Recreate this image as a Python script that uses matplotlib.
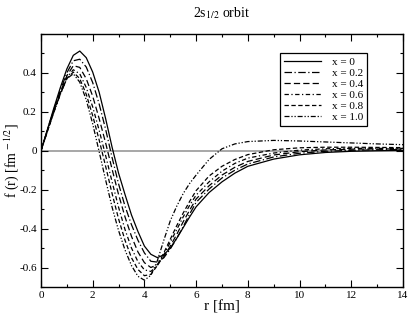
import matplotlib
matplotlib.use("Agg")
import matplotlib.pyplot as plt
from matplotlib.ticker import MultipleLocator, FixedLocator

plt.rcParams['font.family'] = ['Liberation Serif', 'DejaVu Serif']
plt.rcParams['mathtext.fontset'] = 'stix'
plt.rcParams['axes.unicode_minus'] = False

r = [0, 0.25, 0.5, 0.75, 1.0, 1.25, 1.5, 1.75, 2.0, 2.25, 2.5, 2.75, 3.0, 3.25,
     3.5, 3.75, 4.0, 4.25, 4.5, 4.75, 5.0, 5.25, 5.5, 5.75, 6.0,
     6.5, 7.0, 7.5, 8.0, 9.0, 10.0, 11.0, 12.0, 13.0, 14.0]

f_x00 = [0, 0.11, 0.22, 0.325, 0.42, 0.49, 0.512, 0.478, 0.404, 0.30, 0.165, 0.018,
         -0.115, -0.225, -0.33, -0.415, -0.49, -0.532, -0.549, -0.535, -0.50, -0.45,
         -0.395, -0.34, -0.288,
         -0.215, -0.16, -0.115, -0.08, -0.043, -0.021, -0.009, -0.003, 0.0, 0.002]
f_x02 = [0, 0.107, 0.212, 0.31, 0.40, 0.462, 0.47, 0.43, 0.35, 0.24, 0.11, -0.035,
         -0.17, -0.285, -0.38, -0.46, -0.525, -0.568, -0.572, -0.55, -0.505, -0.45,
         -0.39, -0.325, -0.265,
         -0.197, -0.14, -0.10, -0.068, -0.032, -0.013, -0.003, 0.002, 0.005, 0.006]
f_x04 = [0, 0.104, 0.207, 0.30, 0.385, 0.437, 0.428, 0.37, 0.28, 0.165, 0.04, -0.095,
         -0.225, -0.34, -0.44, -0.52, -0.575, -0.60, -0.585, -0.545, -0.49, -0.43,
         -0.365, -0.305, -0.248,
         -0.18, -0.125, -0.085, -0.055, -0.022, -0.005, 0.004, 0.008, 0.009, 0.009]
f_x06 = [0, 0.102, 0.203, 0.295, 0.375, 0.416, 0.395, 0.325, 0.225, 0.105, -0.025, -0.16,
         -0.29, -0.405, -0.50, -0.57, -0.612, -0.62, -0.59, -0.535, -0.47, -0.405,
         -0.34, -0.28, -0.228,
         -0.16, -0.105, -0.065, -0.038, -0.012, 0.003, 0.010, 0.012, 0.012, 0.012]
f_x08 = [0, 0.101, 0.20, 0.292, 0.37, 0.404, 0.37, 0.29, 0.18, 0.055, -0.08, -0.22,
         -0.35, -0.46, -0.55, -0.61, -0.642, -0.635, -0.59, -0.525, -0.455, -0.385,
         -0.32, -0.26, -0.205,
         -0.13, -0.08, -0.045, -0.02, 0.005, 0.015, 0.018, 0.018, 0.017, 0.016]
f_x10 = [0, 0.10, 0.198, 0.29, 0.37, 0.395, 0.352, 0.262, 0.138, -0.005, -0.15, -0.29,
         -0.41, -0.51, -0.59, -0.645, -0.665, -0.64, -0.565, -0.46, -0.36, -0.285,
         -0.22, -0.168, -0.125,
         -0.045, 0.01, 0.035, 0.047, 0.053, 0.05, 0.045, 0.04, 0.035, 0.031]

labels = ['x = 0', 'x = 0.2', 'x = 0.4', 'x = 0.6', 'x = 0.8', 'x = 1.0']
series = [f_x00, f_x02, f_x04, f_x06, f_x08, f_x10]
styles = ['-', (0, (6, 2, 1, 2)), (0, (5, 2.5)), (0, (3.5, 2, 1, 2)),
          (0, (3.5, 2)), (0, (4, 1.5, 1, 1.5, 1, 1.5))]

fig = plt.figure(figsize=(4.09, 3.14), dpi=100)
ax = fig.add_axes([0.1002, 0.086, 0.8851, 0.806])

ax.axhline(0, color='#a0a0a0', lw=1.3, zorder=1)
for ys, lab, ls in zip(series, labels, styles):
    ax.plot(r, ys, color='black', lw=0.9, linestyle=ls, label=lab, zorder=2)

ax.set_xlim(0, 14)
ax.set_ylim(-0.7, 0.6)
ax.xaxis.set_major_locator(MultipleLocator(2))
ax.xaxis.set_minor_locator(MultipleLocator(1))
ax.yaxis.set_major_locator(FixedLocator([-0.6, -0.4, -0.2, 0, 0.2, 0.4]))
ax.yaxis.set_minor_locator(MultipleLocator(0.1))
ax.set_yticklabels(['-0.6', '-0.4', '-0.2', '0', '0.2', '0.4'])
ax.tick_params(which='both', direction='in', top=True, right=True, labelsize=8, pad=3)
ax.tick_params(which='major', length=5, width=0.8)
ax.tick_params(which='minor', length=2.5, width=0.8)
for s in ax.spines.values():
    s.set_linewidth(1.0)

ax.set_xlabel('r [fm]', fontsize=11, labelpad=0)
ax.set_ylabel(r'f (r) [fm$^{\,-1/2}$]', fontsize=10)
ax.yaxis.set_label_coords(-0.056, 0.5)
fig.text(0.543, 0.957, r'2s$_{1/2}$ orbit', ha='center', va='center', fontsize=10)

leg = ax.legend(loc='upper right', bbox_to_anchor=(0.9006, 0.925), fontsize=8,
                frameon=True, fancybox=False, edgecolor='black', framealpha=1,
                labelspacing=0.12, handlelength=3.3, handletextpad=1.0,
                borderpad=0.35, borderaxespad=0)
leg.get_frame().set_linewidth(0.9)

fig.savefig('out.png', dpi=100)
